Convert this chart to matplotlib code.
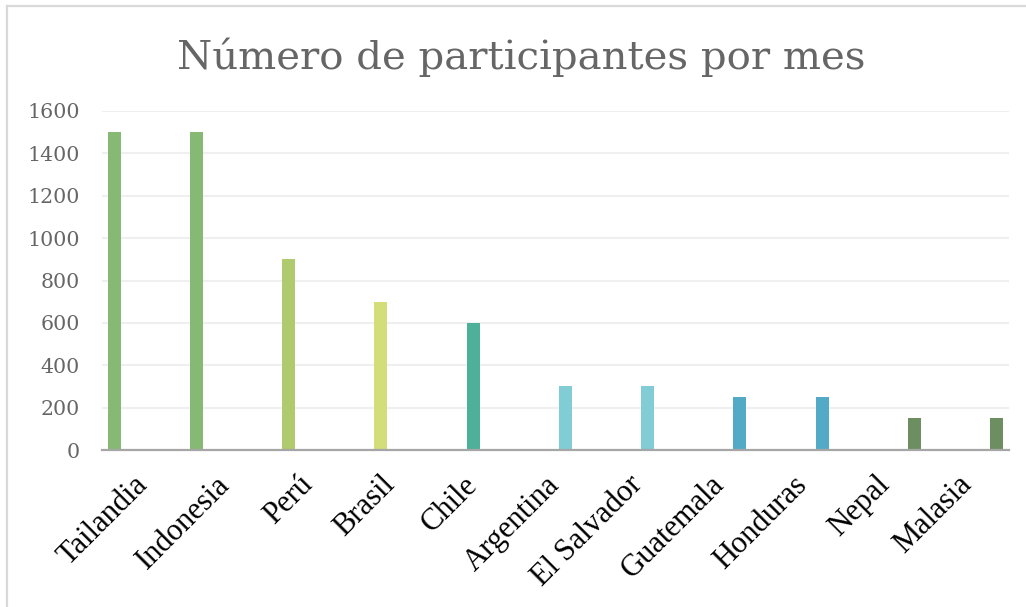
import numpy as np
import matplotlib
matplotlib.use('Agg')
import matplotlib.pyplot as plt
from matplotlib.lines import Line2D

# datos
paises = ['Tailandia', 'Indonesia', 'Perú', 'Brasil', 'Chile', 'Argentina',
          'El Salvador', 'Guatemala', 'Honduras', 'Nepal', 'Malasia']
participantes = [1500, 1500, 900, 700, 600, 300, 300, 250, 250, 150, 150]
serie = [0, 0, 1, 2, 3, 4, 4, 5, 5, 6, 6]  # grupo de color de cada barra
colores_serie = ['#86B974', '#AFCB6E', '#D4DE78', '#4DB098', '#82CCD6', '#52AAC6', '#6D8E61']
yticks = [0, 200, 400, 600, 800, 1000, 1200, 1400, 1600]

W, H = 1026, 607
fig = plt.figure(figsize=(W / 100, H / 100), dpi=100)
ax = fig.add_axes([102 / W, 1 - 450 / H, (1009 - 102) / W, (450 - 111) / H])

n_series = len(colores_serie)
paso = 0.118
x = np.arange(len(paises))
offsets = (np.array(serie) - (n_series - 1) / 2) * paso
ax.bar(x + offsets, participantes, width=0.158,
       color=[colores_serie[s] for s in serie], zorder=3)

ax.set_xlim(-0.5, len(paises) - 0.5)
ax.set_ylim(0, 1600)
ax.set_yticks(yticks)
ax.set_yticklabels([str(v) for v in yticks], family='DejaVu Serif',
                   fontsize=14.8, color='#666666')
ax.tick_params(axis='y', length=0, pad=16)
ax.grid(axis='y', color='#EFEFEF', linewidth=1.5, zorder=0)

ax.set_xticks(x)
ax.set_xticklabels(paises, rotation=45, ha='right', va='center',
                   rotation_mode='anchor', family='Liberation Serif',
                   fontsize=22, color='black')
ax.tick_params(axis='x', length=0, pad=22)

for s in ['top', 'right', 'left']:
    ax.spines[s].set_visible(False)
ax.spines['bottom'].set_color('#A6A6A6')
ax.spines['bottom'].set_linewidth(1.6)
ax.spines['bottom'].set_zorder(4)

fig.text(521 / W, 1 - 69 / H, 'Número de participantes por mes',
         ha='center', va='baseline', family='DejaVu Serif',
         fontsize=29, color='#666666')

# borde del área del gráfico
fig.add_artist(Line2D([7 / W, 7 / W], [0, 1 - 6 / H], color='#D9D9D9', linewidth=1.6))
fig.add_artist(Line2D([7 / W, 1], [1 - 6 / H, 1 - 6 / H], color='#D9D9D9', linewidth=1.6))

fig.savefig('out.png', dpi=100)
